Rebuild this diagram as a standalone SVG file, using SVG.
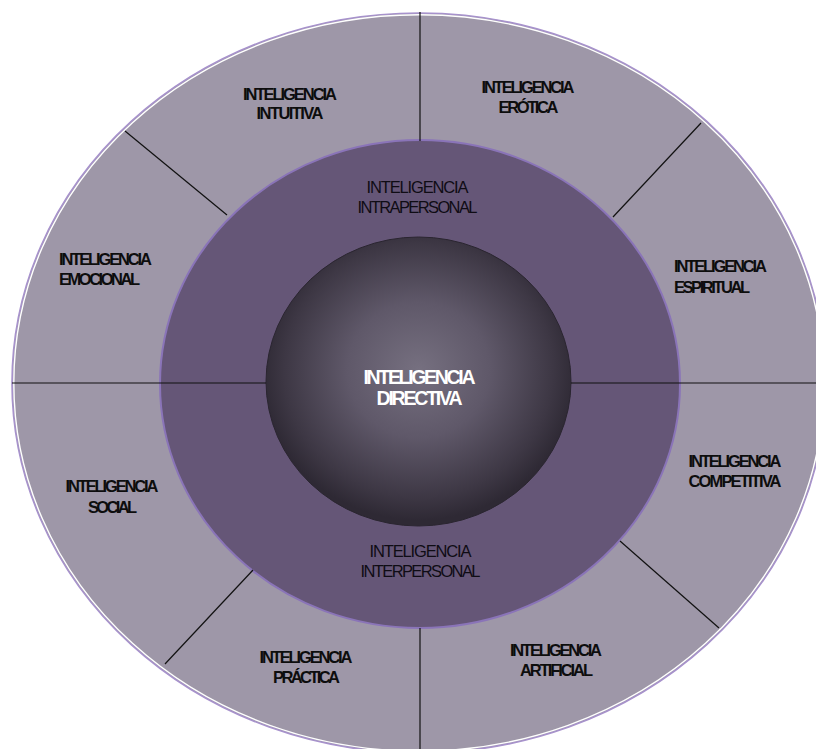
<svg xmlns="http://www.w3.org/2000/svg" width="816" height="749" viewBox="0 0 816 749">
<defs>
<radialGradient id="sphere" cx="0.5" cy="0.46" r="0.52">
<stop offset="0" stop-color="#767080"/>
<stop offset="0.45" stop-color="#5f5869"/>
<stop offset="0.85" stop-color="#3d3744"/>
<stop offset="1" stop-color="#2e2934"/>
</radialGradient>
<style>
.lbl{font-family:"Liberation Sans",Arial,sans-serif;font-weight:bold;font-size:16.5px;fill:#0d0d0d;}
.mid{font-family:"Liberation Sans",Arial,sans-serif;font-size:16.5px;fill:#0f0c14;}
.ctr{font-family:"Liberation Sans",Arial,sans-serif;font-weight:bold;font-size:19.5px;fill:#fff;}
.c{text-anchor:middle;}
.conn line{stroke:#111;stroke-width:1.2;}
</style>
</defs>
<rect width="816" height="749" fill="#fff"/>
<g id="outer-ring">
<ellipse cx="419" cy="383" rx="407" ry="370" fill="#9e97a8" stroke="#a792cc" stroke-width="1.6"/>
<ellipse cx="419" cy="383" rx="405.2" ry="368.2" fill="none" stroke="#fff" stroke-width="1.4"/>
</g>
<g id="middle-ring">
<ellipse cx="420" cy="384" rx="260" ry="244" fill="#655677" stroke="#8a74b8" stroke-width="2"/>
</g>
<g id="core">
<ellipse cx="418.5" cy="381.5" rx="152.5" ry="144.5" fill="url(#sphere)" stroke="#2a2530" stroke-width="1"/>
</g>
<g class="conn" id="connectors">
<line x1="12" y1="383" x2="266" y2="383"/>
<line x1="571" y1="383" x2="816" y2="383"/>
<line x1="420" y1="12" x2="420" y2="141"/>
<line x1="420" y1="628" x2="420" y2="749"/>
<line x1="125" y1="131" x2="227" y2="215"/>
<line x1="701" y1="123" x2="613" y2="217"/>
<line x1="253" y1="570" x2="165" y2="664"/>
<line x1="620" y1="541" x2="719" y2="628"/>
</g>
<g id="n-directiva">
<text class="ctr c" x="419.5" y="384" textLength="112" lengthAdjust="spacing">INTELIGENCIA</text>
<text class="ctr c" x="419.5" y="405" textLength="86" lengthAdjust="spacing">DIRECTIVA</text>
</g>
<g id="n-intrapersonal">
<text class="mid c" x="417.5" y="193" textLength="102" lengthAdjust="spacing">INTELIGENCIA</text>
<text class="mid c" x="417.5" y="213" textLength="120" lengthAdjust="spacing">INTRAPERSONAL</text>
</g>
<g id="n-interpersonal">
<text class="mid c" x="420.5" y="557" textLength="102" lengthAdjust="spacing">INTELIGENCIA</text>
<text class="mid c" x="420.5" y="577" textLength="120" lengthAdjust="spacing">INTERPERSONAL</text>
</g>
<g id="n-intuitiva">
<text class="lbl c" x="290" y="100" textLength="94" lengthAdjust="spacing">INTELIGENCIA</text>
<text class="lbl c" x="290" y="119" textLength="67" lengthAdjust="spacing">INTUITIVA</text>
</g>
<g id="n-erotica">
<text class="lbl c" x="528" y="93" textLength="93" lengthAdjust="spacing">INTELIGENCIA</text>
<text class="lbl c" x="528.5" y="113" textLength="60" lengthAdjust="spacing">ERÓTICA</text>
</g>
<g id="n-emocional">
<text class="lbl" x="59" y="265" textLength="93" lengthAdjust="spacing">INTELIGENCIA</text>
<text class="lbl" x="59" y="285" textLength="81" lengthAdjust="spacing">EMOCIONAL</text>
</g>
<g id="n-espiritual">
<text class="lbl" x="674" y="272" textLength="93" lengthAdjust="spacing">INTELIGENCIA</text>
<text class="lbl" x="674" y="293" textLength="76" lengthAdjust="spacing">ESPIRITUAL</text>
</g>
<g id="n-social">
<text class="lbl c" x="112" y="492" textLength="93" lengthAdjust="spacing">INTELIGENCIA</text>
<text class="lbl c" x="112.5" y="513" textLength="49" lengthAdjust="spacing">SOCIAL</text>
</g>
<g id="n-competitiva">
<text class="lbl c" x="735" y="467" textLength="93" lengthAdjust="spacing">INTELIGENCIA</text>
<text class="lbl c" x="735" y="487" textLength="93" lengthAdjust="spacing">COMPETITIVA</text>
</g>
<g id="n-practica">
<text class="lbl c" x="306" y="663" textLength="93" lengthAdjust="spacing">INTELIGENCIA</text>
<text class="lbl c" x="306.5" y="683" textLength="67" lengthAdjust="spacing">PRÁCTICA</text>
</g>
<g id="n-artificial">
<text class="lbl c" x="556" y="656" textLength="92" lengthAdjust="spacing">INTELIGENCIA</text>
<text class="lbl c" x="556.5" y="676" textLength="73" lengthAdjust="spacing">ARTIFICIAL</text>
</g>
</svg>
